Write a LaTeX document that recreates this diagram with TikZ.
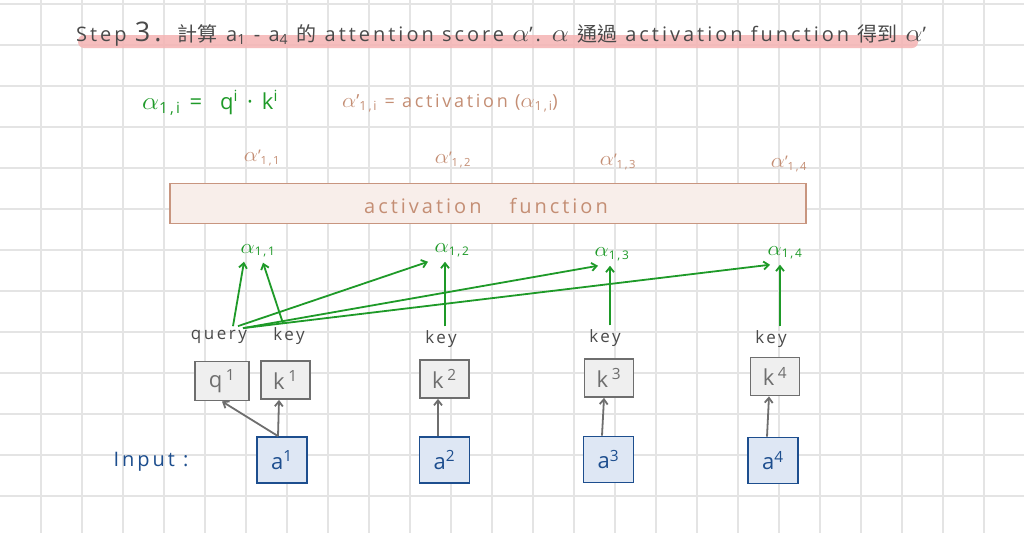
\documentclass[tikz,border=0pt]{standalone}
\usepackage{fontspec}
\setmainfont[LetterSpace=15]{Open Sans}
\newfontfamily\cjk{Noto Sans CJK TC}
\usetikzlibrary{arrows.meta}
\definecolor{gridc}{HTML}{E4E4E4}
\definecolor{grn}{HTML}{1E9A28}
\definecolor{brn}{HTML}{C48E74}
\definecolor{ttl}{HTML}{4A4A4A}
\definecolor{pinkhl}{HTML}{F5B3B3}
\definecolor{gbord}{HTML}{6E6E6E}
\definecolor{gfill}{HTML}{EFEFEF}
\definecolor{bbord}{HTML}{1D4E8E}
\definecolor{bfill}{HTML}{DEE7F4}
\definecolor{actfill}{HTML}{F8EEEA}
\definecolor{actbord}{HTML}{C8957F}
\newcommand{\fs}[1]{\fontsize{#1}{#1}\selectfont}
\newcommand{\al}{\scalebox{1.3}[1.2]{$\alpha$}}
\begin{document}
\begin{tikzpicture}[x=1pt,y=-1pt,
  gridline/.style={gridc,line width=1.3pt},
  graybox/.style={draw=gbord,fill=gfill,line width=1.8pt,inner sep=0pt,text=gbord,font=\fs{22}},
  bluebox/.style={draw=bbord,fill=bfill,line width=1.8pt,inner sep=0pt,text=bbord,font=\fs{22},minimum width=50pt,minimum height=46pt},
  lbl/.style={text=ttl,font=\fs{17},inner sep=1pt},
  alab/.style={text=grn,font=\fs{17},inner sep=1pt},
  plab/.style={text=brn,font=\fs{16},inner sep=1pt},
  garrow/.style={grn,line width=1.8pt,-{Straight Barb[length=5pt,width=8pt]}},
  darrow/.style={gbord,line width=1.8pt,-{Straight Barb[length=5pt,width=8pt]}}
]
\useasboundingbox (0,0) rectangle (1024,533);
\fill[white] (0,0) rectangle (1024,533);
\foreach \i in {1,...,24} \draw[gridline] (41*\i,0) -- (41*\i,533);
\foreach \j in {0,...,12} \draw[gridline] (0,4+41*\j) -- (1024,4+41*\j);

% title
\fill[pinkhl,opacity=0.85,rounded corners=6pt] (78,35) rectangle (918,48);
\node[anchor=base west,text=ttl,font=\fs{20},inner sep=0pt] (title) at (76,41)
  {Step {\fs{27}3.}\ \ {\cjk 計算}\ a\textsubscript{1} - a\textsubscript{4} {\cjk 的} attention score \al'. \al\ {\cjk 通過} activation function {\cjk 得到} \al'};

% formulas
\node[text=grn,font=\fs{22},inner sep=0pt] (f1) at (210,103)
  {\al\textsubscript{1,i} = \ q\textsuperscript{i} · k\textsuperscript{i}};
\node[text=brn,font=\fs{18},inner sep=0pt] (f2) at (450,103)
  {\al'\textsubscript{1,i} = activation (\al\textsubscript{1,i})};

% activation outputs
\node[plab] (p1) at (262,158) {\al'\textsubscript{1,1}};
\node[plab] (p2) at (453,160) {\al'\textsubscript{1,2}};
\node[plab] (p3) at (618,162) {\al'\textsubscript{1,3}};
\node[plab] (p4) at (789,164) {\al'\textsubscript{1,4}};

% activation function box
\node[draw=actbord,fill=actfill,line width=1.8pt,minimum width=636pt,minimum height=40pt,inner sep=0pt] (act) at (488,203.5) {};
\node[text=brn,font=\fs{20},inner sep=0pt] (acttxt) at (486,206) {activation\hspace{1.4em}function};

% scores
\node[alab] (s1) at (258,251) {\al\textsubscript{1,1}};
\node[alab] (s2) at (452,250) {\al\textsubscript{1,2}};
\node[alab] (s3) at (612,254) {\al\textsubscript{1,3}};
\node[alab] (s4) at (785,253) {\al\textsubscript{1,4}};

% labels
\node[lbl] (query) at (219,337) {query};
\node[lbl] (key1) at (289,336) {key};
\node[lbl] (key2) at (441,339) {key};
\node[lbl] (key3) at (605,338) {key};
\node[lbl] (key4) at (771,339) {key};

% gray boxes
\node[graybox,minimum width=54pt,minimum height=39pt] (q1) at (222,381) {q\,\textsuperscript{1}};
\node[graybox,minimum width=49pt,minimum height=38pt] (k1) at (285.5,380) {k\,\textsuperscript{1}};
\node[graybox,minimum width=49pt,minimum height=38pt] (k2) at (444.5,379) {k\,\textsuperscript{2}};
\node[graybox,minimum width=49pt,minimum height=38pt] (k3) at (609,378) {k\,\textsuperscript{3}};
\node[graybox,minimum width=49pt,minimum height=38pt] (k4) at (775,376.5) {k\,\textsuperscript{4}};

% input boxes
\node[text=bbord,font=\fs{20},inner sep=0pt] (input) at (151,462) {Input :};
\node[bluebox] (a1) at (282,460) {a\textsuperscript{1}};
\node[bluebox] (a2) at (444.5,460) {a\textsuperscript{2}};
\node[bluebox] (a3) at (608.5,459.5) {a\textsuperscript{3}};
\node[bluebox] (a4) at (773,460.5) {a\textsuperscript{4}};

% gray arrows
\draw[darrow] ([xshift=-4pt]a1.north) -- (q1.south);
\draw[darrow] ([xshift=-4pt]a1.north) -- ([xshift=-6.5pt]k1.south);
\draw[darrow] ([xshift=-6.5pt]a2.north) -- ([xshift=-6.5pt]k2.south);
\draw[darrow] ([xshift=-6.5pt]a3.north) -- ([xshift=-5pt]k3.south);
\draw[darrow] ([xshift=-6pt]a4.north) -- ([xshift=-6pt]k4.south);

% green arrows
\draw[garrow] ([xshift=14pt,yshift=3pt]query.north) -- ([xshift=-14pt,yshift=-3pt]s1.south);
\draw[garrow] ([xshift=-6pt,yshift=3pt]key1.north) -- ([xshift=5pt,yshift=-4pt]s1.south);
\draw[garrow] ([xshift=19pt,yshift=3pt]query.north) -- ([xshift=-24pt,yshift=-4pt]s2.south);
\draw[garrow] ([xshift=24pt,yshift=1pt]query.north) -- ([xshift=-14pt,yshift=-4pt]s3.south);
\draw[garrow] ([xshift=24pt,yshift=1pt]query.north) -- ([xshift=-15pt,yshift=-4pt]s4.south);
\draw[garrow] ([xshift=4pt,yshift=3pt]key2.north) -- ([xshift=-7pt,yshift=-4pt]s2.south);
\draw[garrow] ([xshift=5pt,yshift=3pt]key3.north) -- ([xshift=-2pt,yshift=-4pt]s3.south);
\draw[garrow] ([xshift=9pt,yshift=3pt]key4.north) -- ([xshift=-5pt,yshift=-4pt]s4.south);
\end{tikzpicture}
\end{document}
